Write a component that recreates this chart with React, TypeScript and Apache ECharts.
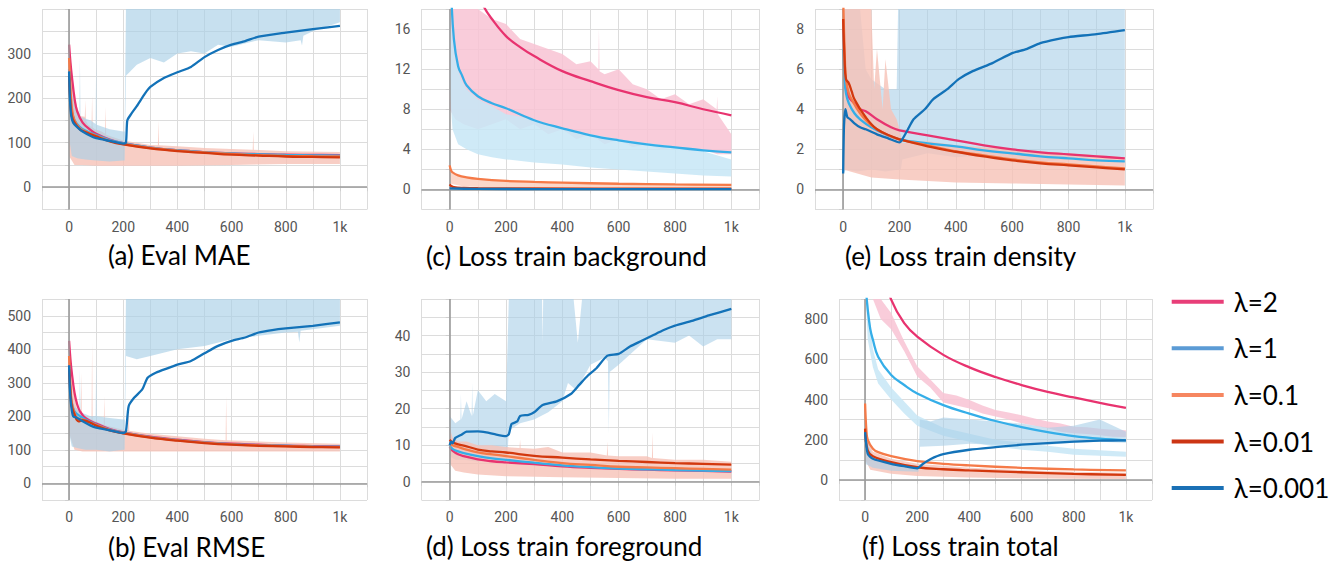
import React, { useEffect, useRef } from "react";
import * as echarts from "echarts";

// ---------- legend / series identity ----------
const LAMBDAS = ["λ=2", "λ=1", "λ=0.1", "λ=0.01", "λ=0.001"];
const LINE_COLORS = ["#e8336f", "#35aee8", "#f57a48", "#d2380e", "#1372b8"];
const LEGEND_COLORS = ["#e83e78", "#5b9bd5", "#f68660", "#cc3514", "#1a70b5"];

// ---------- (a) Eval MAE ----------
const MAE_L2 = [[0,320],[5,280],[10,250],[20,200],[30,170],[50,145],[80,128],[100,120],[150,107],[200,99],[300,89],[400,83],[500,79],[600,76],[700,74.5],[800,73],[900,72.5],[1000,72]];
const MAE_L1 = [[0,265],[5,200],[10,170],[20,150],[40,135],[60,127],[100,117],[150,106],[200,99],[300,89],[400,83],[500,79],[600,76],[700,74],[800,72.5],[900,71.5],[1000,71]];
const MAE_L01 = [[0,290],[3,250],[10,180],[20,150],[40,132],[60,125],[100,115],[150,104],[200,97],[300,88],[400,82],[500,78],[600,75],[700,72],[800,70.5],[900,69.5],[1000,69]];
const MAE_L001 = [[0,250],[5,190],[10,160],[20,145],[40,130],[60,124],[100,114],[150,103],[200,96],[300,87],[400,81],[500,77],[600,73],[700,71],[800,69],[900,68],[1000,67]];
const MAE_L0001 = [[0,260],[3,200],[8,160],[15,145],[30,135],[50,125],[80,115],[100,110],[150,104],[200,98],[210,100],[215,150],[230,165],[250,182],[280,210],[300,225],[350,245],[400,258],[450,270],[500,292],[550,308],[600,320],[650,328],[700,338],[800,347],[900,355],[1000,362]];
const MAE_RAW_WARM_LO = [[0,70],[20,50],[50,50],[100,48],[200,48],[400,48],[600,50],[800,52],[1000,52]];
const MAE_RAW_WARM_HI = [[0,330],[10,260],[20,200],[40,160],[58,158],[60,195],[62,150],[70,140],[83,135],[85,205],[87,134],[95,130],[120,125],[133,120],[135,180],[137,118],[150,115],[200,105],[300,95],[328,94],[330,150],[332,94],[400,92],[500,88],[600,86],[678,84],[680,125],[682,84],[800,81],[1000,79]];
const MAE_RAW_BLUE_LO = [[0,110],[10,70],[30,65],[60,62],[100,60],[150,58],[200,60],[205,60],[210,250],[250,275],[300,290],[350,280],[400,300],[450,305],[500,300],[550,320],[600,315],[700,330],[800,325],[855,330],[860,318],[865,340],[900,350],[950,360],[1000,370]];
const MAE_RAW_BLUE_HI = [[0,260],[10,220],[20,180],[38,160],[40,290],[42,158],[80,150],[98,142],[100,290],[102,140],[150,130],[200,125],[205,125],[210,400],[1000,400]];

// ---------- (b) Eval RMSE ----------
const RMSE_L2 = [[0,425],[5,370],[10,330],[20,270],[30,235],[40,215],[60,195],[100,178],[150,162],[200,152],[300,139],[400,130],[500,123],[600,118],[700,115],[800,112],[900,111],[1000,110]];
const RMSE_L1 = [[0,350],[5,280],[10,240],[20,215],[40,200],[60,190],[100,175],[150,160],[200,151],[300,138],[400,129],[500,122],[600,117],[700,114],[800,112],[900,110],[1000,109]];
const RMSE_L01 = [[0,380],[5,290],[10,240],[20,210],[30,195],[50,190],[100,174],[150,159],[200,150],[300,137],[400,128],[500,121],[600,116],[700,113],[800,111],[900,109],[1000,108]];
const RMSE_L001 = [[0,340],[5,270],[10,230],[20,205],[35,185],[50,188],[100,172],[150,158],[200,149],[300,136],[400,127],[500,120],[600,115],[700,112],[800,110],[900,108],[1000,107]];
const RMSE_L0001 = [[0,352],[3,280],[8,230],[15,200],[30,195],[50,185],[80,172],[100,166],[150,158],[200,150],[210,155],[220,230],[240,255],[270,280],[290,315],[320,330],[370,345],[400,354],[450,365],[500,388],[550,410],[600,425],[650,435],[700,450],[750,457],[800,462],[900,470],[1000,480]];
const RMSE_RAW_WARM_LO = [[0,150],[20,100],[50,95],[100,95],[200,95],[400,95],[600,95],[800,95],[1000,95]];
const RMSE_RAW_WARM_HI = [[0,420],[10,300],[30,220],[43,210],[45,330],[47,205],[83,190],[85,420],[87,188],[128,175],[130,260],[132,173],[200,160],[218,158],[220,250],[222,157],[300,148],[400,140],[500,133],[578,128],[580,260],[582,128],[700,125],[800,122],[1000,118]];
const RMSE_RAW_BLUE_LO = [[0,150],[10,110],[30,105],[60,100],[100,100],[150,95],[200,100],[205,100],[210,380],[250,370],[300,380],[400,400],[500,410],[600,430],[700,440],[800,450],[845,452],[850,420],[855,455],[900,460],[1000,470]];
const RMSE_RAW_BLUE_HI = [[0,360],[10,260],[20,230],[38,215],[40,340],[42,212],[80,200],[98,200],[100,370],[102,200],[150,195],[200,190],[205,190],[210,550],[1000,550]];

// ---------- (c) Loss train background ----------
const BG_L2 = [[0,45],[20,35],[50,27],[80,21],[120,18.3],[150,17],[200,15.3],[250,14.2],[300,13.3],[400,11.8],[500,10.8],[600,9.9],[700,9.2],[800,8.7],[900,8.0],[1000,7.4]];
const BG_L1 = [[0,30],[5,20],[15,15],[30,12.3],[45,11.3],[60,10.4],[100,9.3],[150,8.6],[200,8.1],[300,6.9],[400,6.1],[500,5.4],[600,4.9],[700,4.5],[800,4.2],[900,3.9],[1000,3.7]];
const BG_L01 = [[0,2.4],[5,1.9],[10,1.7],[30,1.4],[60,1.2],[100,1.05],[200,0.85],[300,0.75],[400,0.68],[600,0.57],[800,0.5],[1000,0.45]];
const BG_L001 = [[0,0.5],[5,0.35],[15,0.22],[50,0.15],[100,0.12],[300,0.1],[1000,0.08]];
const BG_L0001 = [[0,0.1],[100,0.05],[500,0.04],[1000,0.03]];
const BG_RAW_PINK_LO = [[0,8],[20,7],[50,6.5],[100,6],[150,6.5],[200,7],[250,6],[300,6.5],[350,5.5],[400,6],[450,5],[500,5.5],[550,4.5],[600,5],[650,4.2],[700,4.5],[750,4],[800,4.2],[850,3.8],[900,4],[950,3.5],[1000,3.5]];
const BG_RAW_PINK_HI = [[0,18],[100,18],[150,17],[200,16.5],[250,15],[300,14.5],[350,14],[400,13.5],[450,12.5],[500,12.8],[528,12],[530,16],[532,11.8],[550,11.5],[600,12],[650,10.5],[700,10],[750,9],[800,9.5],[850,8.5],[900,9],[948,8],[950,9.3],[952,7.5],[1000,5.5]];
const BG_RAW_SKY_LO = [[0,10],[10,6],[30,4.5],[60,4],[100,3.5],[150,3.2],[200,3],[300,2.7],[400,2.5],[500,2.2],[600,2.0],[700,1.8],[800,1.6],[900,1.4],[1000,1.3]];
const BG_RAW_SKY_HI = [[0,18],[10,15],[20,13],[40,11],[60,10],[100,9],[150,8.3],[200,7.5],[300,7],[400,6],[500,5.5],[600,5],[700,4.6],[800,4.3],[900,3.8],[1000,3]];
const BG_RAW_ORANGE_LO = [[0,0.6],[50,0.3],[200,0.2],[1000,0.1]];
const BG_RAW_ORANGE_HI = [[0,2.4],[10,1.6],[50,1.3],[100,1.1],[200,0.9],[400,0.75],[600,0.6],[800,0.55],[1000,0.5]];

// ---------- (d) Loss train foreground ----------
const FG_L2 = [[0,9.5],[10,8.5],[30,7.5],[50,7],[100,6.1],[150,5.6],[200,5.3],[300,4.8],[400,4.2],[500,3.8],[600,3.5],[700,3.3],[800,3.1],[900,2.95],[1000,2.8]];
const FG_L1 = [[0,10],[10,9],[30,8.3],[50,7.8],[100,7],[150,6.4],[200,6],[300,5.2],[400,4.5],[500,4],[600,3.6],[700,3.4],[800,3.2],[900,3.05],[1000,2.9]];
const FG_L01 = [[0,10.5],[10,10],[30,9.5],[50,9],[100,8],[150,7.5],[200,7],[300,6],[400,5.1],[500,4.6],[600,4.1],[700,3.9],[800,3.7],[900,3.5],[1000,3.3]];
const FG_L001 = [[0,11.5],[10,10.8],[30,10.2],[60,9.7],[100,8.8],[150,8.3],[200,8],[300,7.1],[400,6.6],[500,6.1],[600,5.7],[700,5.4],[800,5.1],[900,4.9],[1000,4.7]];
const FG_L0001 = [[0,10],[5,11],[10,10.5],[20,12],[40,12.8],[60,13.7],[100,13.8],[130,13.5],[160,13],[200,12.5],[210,13],[220,15.8],[240,16.5],[250,18],[280,18.3],[300,19],[330,21],[380,22],[430,24],[460,26.5],[490,29],[520,31],[560,34.5],[600,35],[640,37],[680,38.5],[720,40],[760,41.5],[800,42.7],[860,44],[920,45.5],[1000,47.3]];
const FG_RAW_WARM_LO = [[0,5],[20,3],[50,2.5],[100,2],[200,1.5],[400,1.2],[600,1],[800,0.8],[1000,0.8]];
const FG_RAW_WARM_HI = [[0,15],[10,12],[30,11],[60,11],[100,10],[150,10],[200,9.5],[248,9.2],[250,11.5],[252,9.2],[300,9],[350,9.5],[400,8],[500,8],[558,7.2],[560,11],[562,7.2],[600,7],[700,7],[718,6.5],[720,13.5],[722,6.5],[800,6],[900,6],[1000,5.5]];
const FG_RAW_BLUE_LO = [[0,7],[20,6],[50,6],[100,5.5],[150,6],[200,6.5],[205,7],[210,14],[250,16],[300,17],[350,19],[400,22],[420,27],[450,25],[500,32],[550,34],[562,33],[565,13],[568,30],[600,32],[700,39],[800,38],[850,40],[900,37],[950,39],[1000,39]];
const FG_RAW_BLUE_HI = [[0,18],[20,16],[38,17],[40,24],[42,17],[60,22],[78,18],[80,27],[82,18],[100,25],[130,22],[160,24],[200,22],[210,50],[300,50],[328,50],[330,38],[332,50],[440,50],[455,38],[470,50],[1000,50]];

// ---------- (e) Loss train density ----------
const DEN_L2 = [[0,8.5],[5,6],[10,5],[20,4.6],[40,4.3],[60,4.0],[80,3.9],[120,3.5],[170,3.1],[200,2.95],[300,2.7],[400,2.45],[500,2.2],[600,2.0],[700,1.85],[800,1.75],[900,1.65],[1000,1.55]];
const DEN_L1 = [[0,7],[5,5.5],[10,4.8],[20,4.3],[40,3.8],[60,3.5],[100,3.1],[150,2.75],[200,2.5],[300,2.3],[400,2.15],[500,1.95],[600,1.8],[700,1.65],[800,1.55],[900,1.45],[1000,1.4]];
const DEN_L01 = [[0,9.5],[5,7],[10,5.5],[20,4.8],[30,4.5],[60,3.8],[100,3.2],[160,2.7],[200,2.5],[300,2.2],[400,1.9],[500,1.7],[600,1.5],[700,1.35],[800,1.25],[900,1.15],[1000,1.05]];
const DEN_L001 = [[0,8.5],[5,6.5],[10,5.5],[20,5.3],[30,4.9],[40,4.5],[80,3.6],[120,3.0],[180,2.6],[200,2.5],[300,2.15],[400,1.88],[500,1.65],[600,1.45],[700,1.3],[800,1.2],[900,1.1],[1000,1.0]];
const DEN_L0001 = [[0,0.8],[3,3.2],[8,4.0],[15,3.6],[25,3.5],[40,3.3],[60,3.1],[80,3.0],[120,2.75],[160,2.55],[200,2.35],[210,2.5],[230,3.0],[250,3.5],[290,4.0],[320,4.5],[370,5.0],[410,5.5],[460,5.9],[530,6.3],[600,6.8],[650,7.0],[700,7.3],[760,7.5],[800,7.6],[900,7.75],[1000,7.95]];
const DEN_RAW_WARM_LO = [[0,1],[50,0.8],[100,0.6],[200,0.5],[400,0.35],[600,0.3],[800,0.25],[1000,0.2]];
const DEN_RAW_WARM_HI = [[0,9],[50,9],[100,9],[110,5],[120,7],[140,4],[150,6.5],[170,4],[190,3.5],[200,3],[210,2.3],[300,2.4],[400,2.2],[600,2],[800,1.8],[1000,1.6]];
const DEN_RAW_BLUE_LO = [[0,0.8],[10,1],[50,0.9],[100,1],[150,0.9],[200,1.0],[205,1.0],[210,1.5],[300,1.8],[400,1.6],[500,1.7],[600,1.5],[700,1.4],[800,1.5],[900,1.6],[1000,1.5]];
const DEN_RAW_BLUE_HI = [[0,9],[60,9],[80,6],[100,5.5],[150,5],[190,5],[195,9],[1000,9]];

// ---------- (f) Loss train total ----------
const TOT_L2 = [[0,1500],[50,1100],[100,897],[150,780],[200,713],[300,622],[400,560],[500,512],[600,472],[700,438],[800,410],[900,383],[1000,358]];
const TOT_L1 = [[0,1000],[10,850],[20,750],[30,697],[50,613],[100,522],[150,472],[200,430],[300,372],[400,330],[500,293],[600,263],[700,238],[800,218],[900,205],[1000,197]];
const TOT_L01 = [[0,380],[5,247],[10,200],[30,155],[50,138],[100,118],[200,93],[300,80],[400,72],[600,60],[800,52],[1000,47]];
const TOT_L001 = [[0,255],[10,147],[30,118],[100,88],[200,63],[300,53],[400,47],[600,38],[800,30],[1000,25]];
const TOT_L0001 = [[0,238],[10,130],[30,105],[100,80],[150,68],[200,58],[220,78],[250,103],[300,128],[400,150],[500,163],[600,175],[700,183],[800,190],[900,195],[1000,197]];
const TOT_RAW_PINK_LO = [[30,900],[60,800],[100,750],[150,640],[200,515],[250,460],[300,385],[350,370],[400,355],[450,330],[500,315],[550,300],[600,282],[650,270],[700,257],[750,240],[800,232],[850,228],[900,222],[950,215],[1000,213]];
const TOT_RAW_PINK_HI = [[30,900],[60,900],[100,830],[150,690],[200,565],[250,500],[300,432],[350,420],[400,398],[450,370],[500,348],[550,335],[600,322],[650,305],[700,290],[750,280],[800,264],[850,262],[900,255],[950,250],[1000,247]];
const TOT_RAW_SKY_LO = [[3,900],[10,700],[30,560],[50,480],[100,400],[150,330],[200,270],[300,220],[400,190],[500,165],[600,150],[700,140],[800,125],[900,120],[1000,115]];
const TOT_RAW_SKY_HI = [[3,900],[10,900],[30,650],[50,550],[100,460],[150,390],[200,320],[300,260],[400,230],[500,200],[600,185],[700,170],[800,155],[900,148],[1000,140]];
const TOT_RAW_BLUE_LO = [[0,80],[30,60],[100,45],[200,40],[205,40],[210,165],[300,170],[400,180],[500,175],[600,180],[700,175],[800,185],[900,190],[1000,185]];
const TOT_RAW_BLUE_HI = [[0,230],[30,110],[100,85],[200,70],[205,70],[210,300],[250,290],[300,310],[400,300],[500,290],[600,280],[700,260],[800,270],[900,300],[1000,240]];
const TOT_RAW_WARM_LO = [[0,100],[20,50],[100,30],[200,20],[400,12],[600,8],[800,6],[1000,5]];
const TOT_RAW_WARM_HI = [[0,380],[10,200],[30,140],[100,105],[200,80],[400,60],[600,48],[800,40],[1000,35]];

// ---------- raw-band colours ----------
const RAW_WARM = "#f6c2b6";
const RAW_PINK = "#f8c3d3";
const RAW_SKY = "#c7e6f6";
const RAW_BLUE = "#a9cfe7";
const RAW_ORANGE = "#fbd3c4";

type Band = { lo: number[][]; hi: number[][]; color: string; opacity: number };
type Panel = {
  title: string; tx: number; ty: number;
  grid: { left: number; top: number; width: number; height: number };
  yMin: number; yMax: number; yStep: number; yLabelStep: number;
  lines: number[][][]; bands: Band[];
};

const PANELS: Panel[] = [
  { title: "(a) Eval MAE", tx: 108, ty: 259, grid: { left: 42, top: 9, width: 325, height: 200.5 },
    yMin: -50, yMax: 400, yStep: 50, yLabelStep: 100,
    lines: [MAE_L2, MAE_L1, MAE_L01, MAE_L001, MAE_L0001],
    bands: [
      { lo: MAE_RAW_WARM_LO, hi: MAE_RAW_WARM_HI, color: RAW_WARM, opacity: 0.8 },
      { lo: MAE_RAW_BLUE_LO, hi: MAE_RAW_BLUE_HI, color: RAW_BLUE, opacity: 0.65 },
    ] },
  { title: "(c) Loss train background", tx: 426, ty: 260, grid: { left: 421.5, top: 9, width: 338, height: 200.5 },
    yMin: -2, yMax: 18, yStep: 2, yLabelStep: 4,
    lines: [BG_L2, BG_L1, BG_L01, BG_L001, BG_L0001],
    bands: [
      { lo: BG_RAW_PINK_LO, hi: BG_RAW_PINK_HI, color: RAW_PINK, opacity: 0.85 },
      { lo: BG_RAW_SKY_LO, hi: BG_RAW_SKY_HI, color: RAW_SKY, opacity: 0.85 },
      { lo: BG_RAW_ORANGE_LO, hi: BG_RAW_ORANGE_HI, color: RAW_ORANGE, opacity: 0.9 },
    ] },
  { title: "(e) Loss train density", tx: 845, ty: 260, grid: { left: 815, top: 9, width: 338, height: 200.5 },
    yMin: -1, yMax: 9, yStep: 1, yLabelStep: 2,
    lines: [DEN_L2, DEN_L1, DEN_L01, DEN_L001, DEN_L0001],
    bands: [
      { lo: DEN_RAW_BLUE_LO, hi: DEN_RAW_BLUE_HI, color: RAW_BLUE, opacity: 0.6 },
      { lo: DEN_RAW_WARM_LO, hi: DEN_RAW_WARM_HI, color: RAW_WARM, opacity: 0.8 },
    ] },
  { title: "(b) Eval RMSE", tx: 108, ty: 551, grid: { left: 42, top: 299, width: 325, height: 201 },
    yMin: -50, yMax: 550, yStep: 50, yLabelStep: 100,
    lines: [RMSE_L2, RMSE_L1, RMSE_L01, RMSE_L001, RMSE_L0001],
    bands: [
      { lo: RMSE_RAW_WARM_LO, hi: RMSE_RAW_WARM_HI, color: RAW_WARM, opacity: 0.8 },
      { lo: RMSE_RAW_BLUE_LO, hi: RMSE_RAW_BLUE_HI, color: RAW_BLUE, opacity: 0.65 },
    ] },
  { title: "(d) Loss train foreground", tx: 426, ty: 550, grid: { left: 421.5, top: 299, width: 338, height: 201 },
    yMin: -5, yMax: 50, yStep: 5, yLabelStep: 10,
    lines: [FG_L2, FG_L1, FG_L01, FG_L001, FG_L0001],
    bands: [
      { lo: FG_RAW_BLUE_LO, hi: FG_RAW_BLUE_HI, color: RAW_BLUE, opacity: 0.6 },
      { lo: FG_RAW_WARM_LO, hi: FG_RAW_WARM_HI, color: RAW_WARM, opacity: 0.8 },
    ] },
  { title: "(f) Loss train total", tx: 862, ty: 550, grid: { left: 839, top: 299, width: 313, height: 201 },
    yMin: -100, yMax: 900, yStep: 100, yLabelStep: 200,
    lines: [TOT_L2, TOT_L1, TOT_L01, TOT_L001, TOT_L0001],
    bands: [
      { lo: TOT_RAW_WARM_LO, hi: TOT_RAW_WARM_HI, color: RAW_WARM, opacity: 0.8 },
      { lo: TOT_RAW_PINK_LO, hi: TOT_RAW_PINK_HI, color: RAW_PINK, opacity: 0.85 },
      { lo: TOT_RAW_SKY_LO, hi: TOT_RAW_SKY_HI, color: RAW_SKY, opacity: 0.85 },
      { lo: TOT_RAW_BLUE_LO, hi: TOT_RAW_BLUE_HI, color: RAW_BLUE, opacity: 0.6 },
    ] },
];

const AXIS_FONT = "Roboto, 'DejaVu Sans', sans-serif";
const TEXT_FONT = "Lato, 'Noto Sans', sans-serif";

function buildOption() {
  const grid: any[] = [];
  const xAxis: any[] = [];
  const yAxis: any[] = [];
  const series: any[] = [];
  const graphic: any[] = [];

  PANELS.forEach((p, i) => {
    grid.push({ ...p.grid });
    xAxis.push({
      type: "value", gridIndex: i, min: -100, max: 1100, interval: 100,
      axisLine: { show: false },
      axisTick: { show: true, length: 4, lineStyle: { color: "#cfcfcf" } },
      splitLine: { show: true, lineStyle: { color: "#dcdcdc", width: 1 } },
      axisLabel: {
        color: "#555", fontFamily: AXIS_FONT, fontSize: 14, margin: 10,
        formatter: (v: number) => (v === 1000 ? "1k" : v >= 0 && v < 1000 && v % 200 === 0 ? String(v) : ""),
      },
    });
    yAxis.push({
      type: "value", gridIndex: i, min: p.yMin, max: p.yMax, interval: p.yStep,
      axisLine: { show: false },
      axisTick: { show: true, length: 4, lineStyle: { color: "#cfcfcf" } },
      splitLine: { show: true, lineStyle: { color: "#dcdcdc", width: 1 } },
      axisLabel: {
        color: "#555", fontFamily: AXIS_FONT, fontSize: 14, margin: 11,
        formatter: (v: number) => {
          const r = v / p.yLabelStep;
          return v >= 0 && v < p.yMax && Math.abs(r - Math.round(r)) < 1e-6 ? String(v) : "";
        },
      },
    });

    p.bands.forEach((b) => {
      const clampY = (y: number) => Math.max(p.yMin, Math.min(p.yMax, y));
      series.push({
        type: "custom", xAxisIndex: i, yAxisIndex: i, silent: true, z: 1,
        data: [[0, 0]],
        renderItem: (_params: any, api: any) => {
          const top = b.hi.map((pt) => api.coord([pt[0], clampY(pt[1])]));
          const bot = b.lo.slice().reverse().map((pt) => api.coord([pt[0], clampY(pt[1])]));
          return {
            type: "polygon",
            shape: { points: top.concat(bot) },
            style: { fill: b.color, opacity: b.opacity },
          };
        },
      });
    });

    // zero axes
    series.push({
      type: "line", xAxisIndex: i, yAxisIndex: i, data: [], z: 2, silent: true,
      markLine: {
        silent: true, symbol: ["none", "none"], label: { show: false },
        lineStyle: { color: "#9a9a9a", type: "solid", width: 1.6 },
        data: [{ yAxis: 0 }, { xAxis: 0 }],
      },
    });

    p.lines.forEach((d, k) => {
      series.push({
        type: "line", name: LAMBDAS[k], xAxisIndex: i, yAxisIndex: i, data: d,
        showSymbol: false, smooth: k === 4 ? 0.2 : 0.4, z: 3 + k,
        lineStyle: { color: LINE_COLORS[k], width: 2.3 },
        itemStyle: { color: LINE_COLORS[k] },
        clip: true,
      });
    });

    graphic.push({
      type: "text", left: p.tx, top: p.ty - 17,
      style: { text: p.title, fill: "#000", font: `26px ${TEXT_FONT}` },
    });
  });

  return {
    animation: false,
    backgroundColor: "#ffffff",
    grid, xAxis, yAxis, series, graphic,
    legend: {
      orient: "vertical", left: 1171.7, top: 286.7, padding: 0,
      itemWidth: 52, itemHeight: 4, itemGap: 16.6, icon: "rect", selectedMode: false,
      data: LAMBDAS.map((n, k) => ({ name: n, itemStyle: { color: LEGEND_COLORS[k] } })),
      textStyle: { fontFamily: TEXT_FONT, fontSize: 26, color: "#000", lineHeight: 30, padding: [0, 0, 0, 5] },
    },
  };
}

export default function App() {
  const ref = useRef<HTMLDivElement>(null);
  useEffect(() => {
    if (!ref.current) return;
    const chart = echarts.init(ref.current, undefined, { renderer: "svg" });
    chart.setOption(buildOption() as any);
    return () => chart.dispose();
  }, []);
  return (
    <div
      ref={ref}
      style={{ position: "absolute", left: 0, top: 0, width: 1336, height: 565, background: "#fff" }}
    />
  );
}
